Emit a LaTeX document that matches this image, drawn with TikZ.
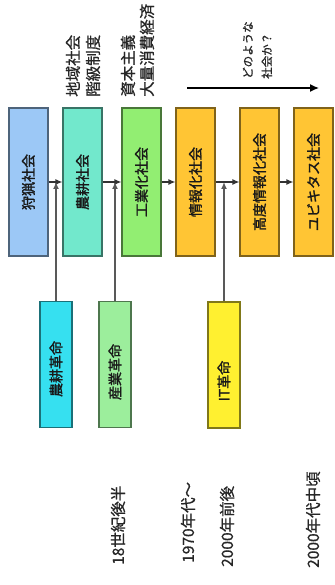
\documentclass[tikz,border=0pt]{standalone}
\usepackage{fontspec}
\setmainfont{Noto Sans CJK JP}
\newfontfamily\heavyjp{Noto Sans CJK JP}[FakeBold=1.6]
\newfontfamily\midjp{Noto Sans CJK JP}[FakeBold=0.8]
\usepackage{graphicx}
\usetikzlibrary{arrows.meta}
\definecolor{cHunt}{HTML}{9CC8F6}
\definecolor{cAgri}{HTML}{72E8CC}
\definecolor{cInd}{HTML}{92EE72}
\definecolor{cInfo}{HTML}{FFC534}
\definecolor{rAgri}{HTML}{36E0F0}
\definecolor{rInd}{HTML}{9CEE9C}
\definecolor{rIT}{HTML}{FFF030}
\begin{document}
\begin{tikzpicture}[x=1pt,y=-1pt,
  sbox/.style={draw=#1!50!black, fill=#1, line width=1.1pt, minimum height=148pt,
    minimum width=39pt, inner sep=0pt, text=black!90,
    font=\heavyjp\fontsize{14}{16}\selectfont},
  rbox/.style={draw=#1!50!black, fill=#1, line width=1.1pt, minimum height=126pt,
    minimum width=32pt, inner sep=0pt, text=black!90,
    font=\heavyjp\fontsize{14}{16}\selectfont},
  lbl/.style={rotate=90, anchor=west, inner sep=0pt, align=left, text=black!85},
  harr/.style={draw=black!80, line width=1.2pt, -{Latex[length=7pt,width=6pt]}},
  varr/.style={draw=black!65, line width=1.4pt, -{Latex[length=7pt,width=6pt]}},
  bigarr/.style={draw=black, line width=1.4pt, -{Latex[length=9pt,width=8pt]}}]
\useasboundingbox (0,0) rectangle (334,585);
\fill[white] (0,0) rectangle (334,585);

% society boxes
\node[sbox=cHunt] (s1) at (28.5,182) {\rotatebox{90}{狩猟社会}};
\node[sbox=cAgri] (s2) at (82.5,182) {\rotatebox{90}{農耕社会}};
\node[sbox=cInd]  (s3) at (141.5,182) {\rotatebox{90}{工業化社会}};
\node[sbox=cInfo] (s4) at (195.5,182) {\rotatebox{90}{情報化社会}};
\node[sbox=cInfo] (s5) at (259.5,182) {\rotatebox{90}{高度情報化社会}};
\node[sbox=cInfo] (s6) at (313.5,182) {\rotatebox{90}{ユビキタス社会}};

% revolution boxes
\node[rbox=rAgri] (r1) at (56,364.5) {\rotatebox{90}{農耕革命\hspace{9pt}}};
\node[rbox=rInd]  (r2) at (115,364.5) {\rotatebox{90}{産業革命\hspace{15pt}}};
\node[rbox=rIT]   (r3) at (224,365) {\rotatebox{90}{IT革命\hspace{32pt}}};

% connectors
\draw[harr] (s1) -- (s2);
\draw[harr] (s2) -- (s3);
\draw[harr] (s3) -- (s4);
\draw[harr] (s4) -- (s5);
\draw[harr] (s5) -- (s6);
\draw[varr] (r1.north) -- (r1.north |- s1.east);
\draw[varr] (r2.north) -- (r2.north |- s1.east);
\draw[varr] (r3.north) -- (r3.north |- s1.east);

% top arrow
\coordinate (a0) at (187,88);
\coordinate (a1) at (319,88);
\draw[bigarr] (a0) -- (a1);

% top labels
\node[lbl, font=\midjp\fontsize{15.5}{20}\selectfont] (t1) at (83,97) {地域社会\\階級制度};
\node[lbl, font=\midjp\fontsize{15.5}{19}\selectfont] (t2) at (137.5,97) {資本主義\\大量消費経済};
\node[lbl, font=\midjp\fontsize{11.5}{19}\selectfont] (t3) at (257.5,79) {どのような\\社会か？};

% dates
\node[lbl, font=\midjp\fontsize{15.5}{18}\selectfont] (d1) at (118,565) {18世紀後半};
\node[lbl, font=\midjp\fontsize{15.5}{18}\selectfont] (d2) at (188,563) {1970年代～};
\node[lbl, font=\midjp\fontsize{15.5}{18}\selectfont] (d3) at (227,567) {2000年前後};
\node[lbl, font=\midjp\fontsize{15.5}{18}\selectfont] (d4) at (313,568) {2000年代中頃};
\end{tikzpicture}
\end{document}
